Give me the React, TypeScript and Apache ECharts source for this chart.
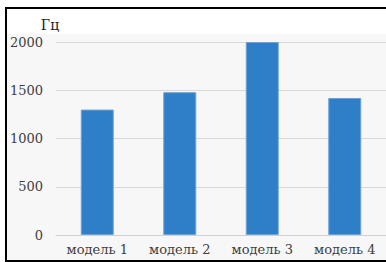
import React, { useEffect, useRef } from "react";
import * as echarts from "echarts";

const categories = ["модель 1", "модель 2", "модель 3", "модель 4"];
const values = [1300, 1480, 2000, 1420];
const unitName = "Гц";

const FONT = "DejaVu Serif";

export default function App() {
  const ref = useRef<HTMLDivElement>(null);
  useEffect(() => {
    if (!ref.current) return;
    const chart = echarts.init(ref.current, null, { renderer: "svg" });
    chart.setOption({
      animation: false,
      backgroundColor: "#ffffff",
      textStyle: { fontFamily: FONT },
      grid: { left: 56, top: 42, bottom: 27, width: 343, containLabel: false },
      xAxis: {
        type: "category",
        data: categories,
        axisTick: { show: false },
        axisLine: { show: true, lineStyle: { color: "#d0d0d0", width: 1 } },
        axisLabel: { color: "#404040", fontFamily: FONT, fontSize: 13, margin: 8 },
      },
      yAxis: {
        type: "value",
        min: 0,
        max: 2000,
        interval: 500,
        name: unitName,
        nameLocation: "end",
        nameGap: 17,
        nameTextStyle: {
          color: "#222",
          fontFamily: FONT,
          fontSize: 14,
          align: "center",
          verticalAlign: "middle",
          padding: [0, 12, 0, 0],
        },
        axisLine: { show: false },
        axisTick: { show: false },
        axisLabel: {
          color: "#404040",
          fontFamily: FONT,
          fontSize: 13,
          margin: 13,
          formatter: (v: number) => String(v),
        },
        splitLine: { lineStyle: { color: "#d9d9d9", width: 1 } },
      },
      series: [
        {
          type: "bar",
          data: values,
          barWidth: "40%",
          itemStyle: { color: "#2f7fc8", borderColor: "#6fa3d8", borderWidth: 1 },
        },
      ],
      graphic: [
        {
          type: "rect",
          z: -10,
          silent: true,
          shape: { x: 7, y: 34, width: 390, height: 226 },
          style: { fill: "#f7f7f7" },
        },
        {
          type: "line",
          z: 100,
          shape: { x1: 5, y1: 8, x2: 386, y2: 8 },
          style: { stroke: "#000", lineWidth: 2 },
        },
        {
          type: "line",
          z: 100,
          shape: { x1: 6, y1: 7, x2: 6, y2: 262 },
          style: { stroke: "#000", lineWidth: 2 },
        },
        {
          type: "line",
          z: 100,
          shape: { x1: 5, y1: 261, x2: 386, y2: 261 },
          style: { stroke: "#000", lineWidth: 2 },
        },
      ],
    });
    return () => chart.dispose();
  }, []);
  return (
    <div
      ref={ref}
      style={{ position: "fixed", left: 0, top: 0, width: 386, height: 262 }}
    />
  );
}
